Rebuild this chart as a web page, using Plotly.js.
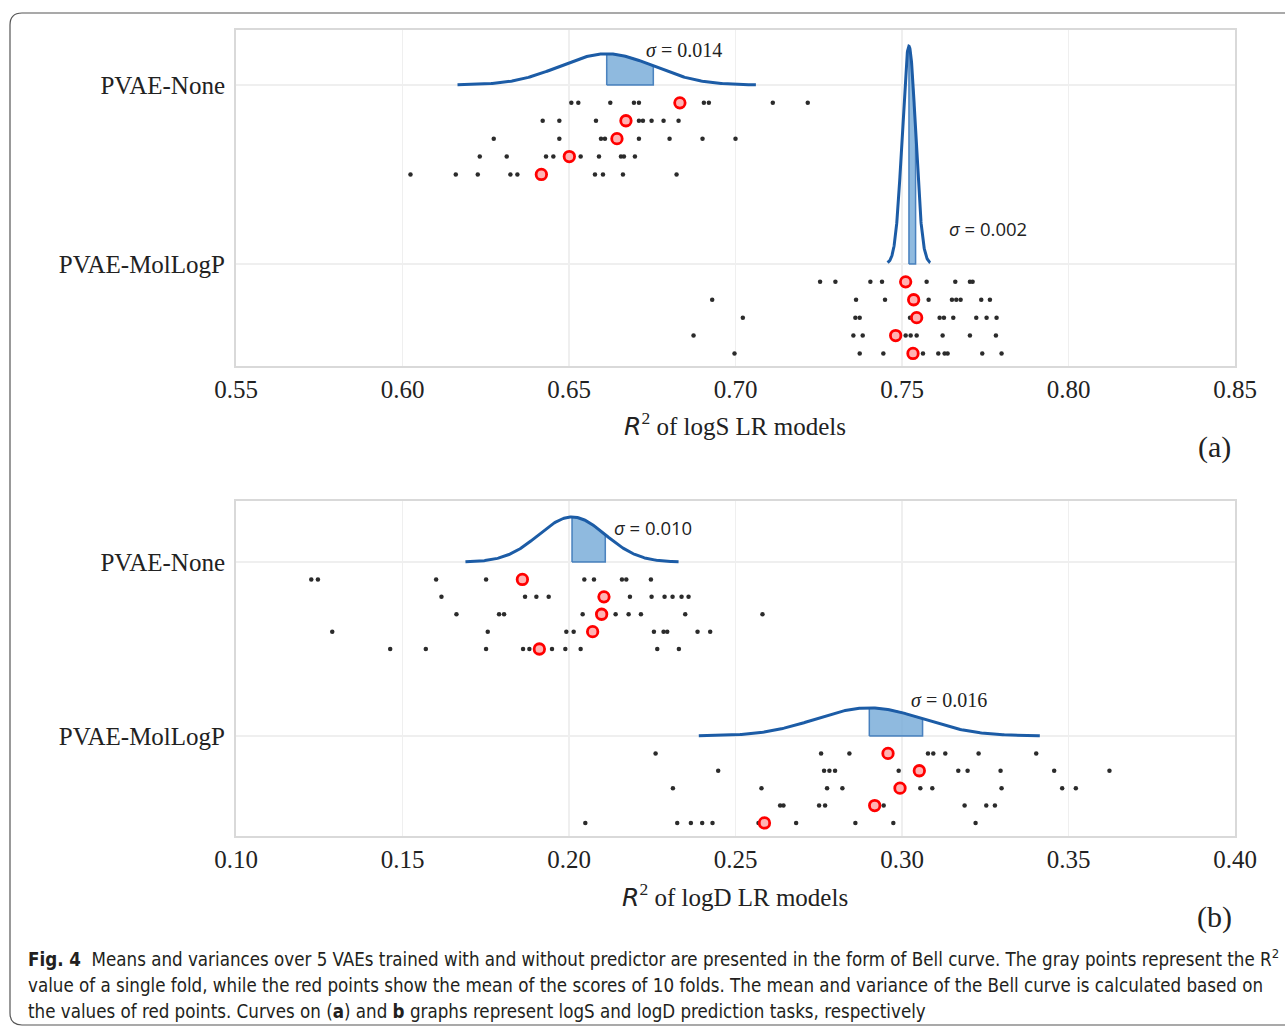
<!DOCTYPE html>
<html>
<head>
<meta charset="utf-8">
<script src="https://cdn.plot.ly/plotly-3.0.1.min.js"></script>
<style>html,body{margin:0;padding:0;background:#fff;}#chart{width:1285px;height:1031px;}</style>
</head>
<body>
<div id="chart"></div>
<script>
// ---------------- DATA ----------------
const categories = ['PVAE-None', 'PVAE-MolLogP'];

// Panel (a): R^2 of logS LR models, fold scores (gray) per VAE (5 rows)
const aNoneFolds = [
  [0.6507, 0.6528, 0.6624, 0.6695, 0.6710, 0.6905, 0.6920, 0.7112, 0.7217],
  [0.6421, 0.6471, 0.6581, 0.6710, 0.6722, 0.6748, 0.6784, 0.6829],
  [0.6274, 0.6471, 0.6596, 0.6608, 0.6710, 0.6802, 0.6901, 0.7000],
  [0.6232, 0.6313, 0.6431, 0.6453, 0.6535, 0.6590, 0.6656, 0.6665, 0.6698],
  [0.6024, 0.6160, 0.6226, 0.6324, 0.6345, 0.6578, 0.6602, 0.6662, 0.6823]
];
const aNoneMeans = [0.6833, 0.6671, 0.6644, 0.6501, 0.6417];
const aMolFolds = [
  [0.7254, 0.7300, 0.7405, 0.7440, 0.7574, 0.7660, 0.7704, 0.7712],
  [0.6930, 0.7362, 0.7449, 0.7580, 0.7650, 0.7663, 0.7676, 0.7738, 0.7764],
  [0.7022, 0.7360, 0.7373, 0.7524, 0.7613, 0.7626, 0.7654, 0.7723, 0.7754, 0.7784],
  [0.6874, 0.7354, 0.7382, 0.7511, 0.7526, 0.7544, 0.7622, 0.7704, 0.7782],
  [0.6997, 0.7373, 0.7444, 0.7563, 0.7609, 0.7628, 0.7637, 0.7741, 0.7799]
];
const aMolMeans = [0.7511, 0.7535, 0.7544, 0.7481, 0.7533];
const aSigmas = [0.014, 0.002];

// Panel (b): R^2 of logD LR models
const bNoneFolds = [
  [0.1226, 0.1246, 0.1601, 0.1751, 0.2046, 0.2075, 0.2159, 0.2172, 0.2246],
  [0.1617, 0.1868, 0.1902, 0.1939, 0.2183, 0.2248, 0.2287, 0.2311, 0.2338, 0.2359],
  [0.1662, 0.1790, 0.1805, 0.2041, 0.2140, 0.2179, 0.2216, 0.2349, 0.2581],
  [0.1289, 0.1756, 0.1992, 0.2014, 0.2255, 0.2284, 0.2295, 0.2386, 0.2424],
  [0.1463, 0.1570, 0.1751, 0.1862, 0.1881, 0.1949, 0.1989, 0.2035, 0.2265, 0.2330]
];
const bNoneMeans = [0.1860, 0.2105, 0.2098, 0.2071, 0.1911];
const bMolFolds = [
  [0.2260, 0.2757, 0.2842, 0.3078, 0.3094, 0.3130, 0.3230, 0.3403],
  [0.2448, 0.2766, 0.2782, 0.2799, 0.2990, 0.3169, 0.3197, 0.3296, 0.3457, 0.3623],
  [0.2312, 0.2578, 0.2775, 0.2821, 0.3055, 0.3091, 0.3299, 0.3481, 0.3522],
  [0.2634, 0.2644, 0.2751, 0.2769, 0.2945, 0.3188, 0.3253, 0.3279],
  [0.2049, 0.2325, 0.2366, 0.2400, 0.2431, 0.2569, 0.2682, 0.2860, 0.2974, 0.3221]
];
const bMolMeans = [0.2958, 0.3052, 0.2994, 0.2918, 0.2587];
const bSigmas = [0.010, 0.016];

const aTicks = [0.55, 0.60, 0.65, 0.70, 0.75, 0.80, 0.85];
const bTicks = [0.10, 0.15, 0.20, 0.25, 0.30, 0.35, 0.40];

const captionLines = [
  '<b>Fig. 4</b>  Means and variances over 5 VAEs trained with and without predictor are presented in the form of Bell curve. The gray points represent the R<sup>2</sup>',
  'value of a single fold, while the red points show the mean of the scores of 10 folds. The mean and variance of the Bell curve is calculated based on',
  'the values of red points. Curves on (<b>a</b>) and <b>b</b> graphs represent logS and logD prediction tasks, respectively'
];

// ---------------- LAYOUT HELPERS ----------------
const W = 1285, H = 1031;
const px = v => v / W;
const py = v => 1 - v / H;
const rowStep = 0.1;           // vertical offset between VAE rows
const spread = 3.2;            // bell curve drawn over mean +/- spread*sigma
const curveScale = {a: 0.0061, b: 0.0065};

const serif = 'Liberation Serif, Times New Roman, serif';
const traces = [];

function mean(arr) { return arr.reduce((s, v) => s + v, 0) / arr.length; }

function addGroup(foldRows, means, sigma, base, xa, ya, k) {
  const mu = mean(means);
  const n = 240;
  const cx = [], cy = [];
  for (let i = 0; i <= n; i++) {
    const x = mu - spread * sigma + (2 * spread * sigma) * i / n;
    const pdf = Math.exp(-0.5 * Math.pow((x - mu) / sigma, 2)) / (sigma * Math.sqrt(2 * Math.PI));
    cx.push(x); cy.push(base - k * pdf);
  }
  const fx = [mu], fy = [base];
  for (let i = 0; i <= 60; i++) {
    const x = mu + sigma * i / 60;
    const pdf = Math.exp(-0.5 * Math.pow((x - mu) / sigma, 2)) / (sigma * Math.sqrt(2 * Math.PI));
    fx.push(x); fy.push(base - k * pdf);
  }
  fx.push(mu + sigma); fy.push(base); fx.push(mu); fy.push(base);
  traces.push({x: fx, y: fy, xaxis: xa, yaxis: ya, mode: 'lines', fill: 'toself',
    fillcolor: 'rgba(112,166,214,0.78)', line: {color: 'rgba(60,120,185,0.9)', width: 1.5},
    hoverinfo: 'skip', showlegend: false});
  traces.push({x: cx, y: cy, xaxis: xa, yaxis: ya, mode: 'lines',
    line: {color: '#1c5ca6', width: 3}, hoverinfo: 'skip', showlegend: false});

  const gx = [], gy = [];
  foldRows.forEach((row, r) => row.forEach(v => { gx.push(v); gy.push(base + rowStep * (r + 1)); }));
  traces.push({x: gx, y: gy, xaxis: xa, yaxis: ya, mode: 'markers', type: 'scatter',
    marker: {size: 4.5, color: '#2b2b2b'}, showlegend: false});
  traces.push({x: means, y: means.map((_, r) => base + rowStep * (r + 1)), xaxis: xa, yaxis: ya,
    mode: 'markers', type: 'scatter',
    marker: {size: 10.5, color: '#ffb3b3', line: {color: '#ff0000', width: 2.8}}, showlegend: false});
}

addGroup(aNoneFolds, aNoneMeans, aSigmas[0], 0, 'x', 'y', curveScale.a);
addGroup(aMolFolds, aMolMeans, aSigmas[1], 1, 'x', 'y', curveScale.a);
addGroup(bNoneFolds, bNoneMeans, bSigmas[0], 0, 'x2', 'y2', curveScale.b);
addGroup(bMolFolds, bMolMeans, bSigmas[1], 1, 'x2', 'y2', curveScale.b);

const xBase = {
  domain: [px(236), px(1235)], showgrid: true, gridcolor: '#efefef', gridwidth: 1.5, zeroline: false,
  showline: true, linecolor: '#d9d9d9', linewidth: 2, mirror: true,
  ticks: '', tickformat: '.2f',
  tickfont: {family: serif, size: 25, color: '#222'}
};
const yBase = {
  showgrid: true, gridcolor: '#efefef', gridwidth: 1.5, zeroline: false,
  showline: true, linecolor: '#d9d9d9', linewidth: 2, mirror: true,
  tickvals: [0, 1], ticktext: categories,
  ticks: 'outside', ticklen: 4, tickcolor: 'rgba(0,0,0,0)',
  tickfont: {family: serif, size: 25, color: '#222'}
};

const annFont = (size, fam) => ({family: fam || serif, size: size, color: '#222'});
const sans = 'Open Sans, DejaVu Sans, sans-serif';
const annotations = [
  {text: '<span style="font-family:DejaVu Sans"><i>R</i></span><sup>2</sup> of logS LR models', x: px(735), y: py(425), xref: 'paper', yref: 'paper', showarrow: false, xanchor: 'center', yanchor: 'middle', font: annFont(25)},
  {text: '<span style="font-family:DejaVu Sans"><i>R</i></span><sup>2</sup> of logD LR models', x: px(735), y: py(895), xref: 'paper', yref: 'paper', showarrow: false, xanchor: 'center', yanchor: 'middle', font: annFont(25)},
  {text: '(a)', x: px(1214), y: py(447), xref: 'paper', yref: 'paper', showarrow: false, xanchor: 'center', yanchor: 'middle', font: annFont(30)},
  {text: '(b)', x: px(1214), y: py(917), xref: 'paper', yref: 'paper', showarrow: false, xanchor: 'center', yanchor: 'middle', font: annFont(30)},
  {text: '<i>σ</i> = ' + aSigmas[0].toFixed(3), x: px(644), y: py(50), xref: 'paper', yref: 'paper', showarrow: false, xanchor: 'left', yanchor: 'middle', font: annFont(20)},
  {text: '<i>σ</i> = ' + aSigmas[1].toFixed(3), x: px(947), y: py(228), xref: 'paper', yref: 'paper', showarrow: false, xanchor: 'left', yanchor: 'middle', font: annFont(18.5, sans)},
  {text: '<i>σ</i> = ' + bSigmas[0].toFixed(3), x: px(612), y: py(527), xref: 'paper', yref: 'paper', showarrow: false, xanchor: 'left', yanchor: 'middle', font: annFont(18.5, sans)},
  {text: '<i>σ</i> = ' + bSigmas[1].toFixed(3), x: px(909), y: py(700), xref: 'paper', yref: 'paper', showarrow: false, xanchor: 'left', yanchor: 'middle', font: annFont(20)}
];
const capFont = {family: 'Liberation Sans Narrow, DejaVu Sans Condensed, Arial Narrow, sans-serif', size: 18.6, color: '#231f20'};
const capY = [958, 985, 1011];
captionLines.forEach((t, i) => annotations.push({text: t, x: px(26), y: py(capY[i]), xref: 'paper', yref: 'paper',
  showarrow: false, xanchor: 'left', yanchor: 'middle', font: capFont}));

const r = 12;
const framePath = `M ${px(1300)},${py(13)} L ${px(10 + r)},${py(13)} Q ${px(10)},${py(13)} ${px(10)},${py(13 + r)} ` +
  `L ${px(10)},${py(1025 - r)} Q ${px(10)},${py(1025)} ${px(10 + r)},${py(1025)} L ${px(1300)},${py(1025)}`;

const layout = {
  width: W, height: H, margin: {l: 0, r: 0, t: 0, b: 0},
  paper_bgcolor: '#fff', plot_bgcolor: '#fff', showlegend: false,
  xaxis: Object.assign({}, xBase, {anchor: 'y', range: [0.55, 0.85], tickvals: aTicks}),
  yaxis: Object.assign({}, yBase, {anchor: 'x', domain: [py(366), py(30)], range: [1.570, -0.307]}),
  xaxis2: Object.assign({}, xBase, {anchor: 'y2', range: [0.10, 0.40], tickvals: bTicks}),
  yaxis2: Object.assign({}, yBase, {anchor: 'x2', domain: [py(836), py(501)], range: [1.575, -0.351]}),
  annotations: annotations,
  shapes: [{type: 'path', xref: 'paper', yref: 'paper', path: framePath, line: {color: '#555', width: 1.2}}]
};

Plotly.newPlot('chart', traces, layout, {staticPlot: true, displayModeBar: false});
</script>
</body>
</html>
